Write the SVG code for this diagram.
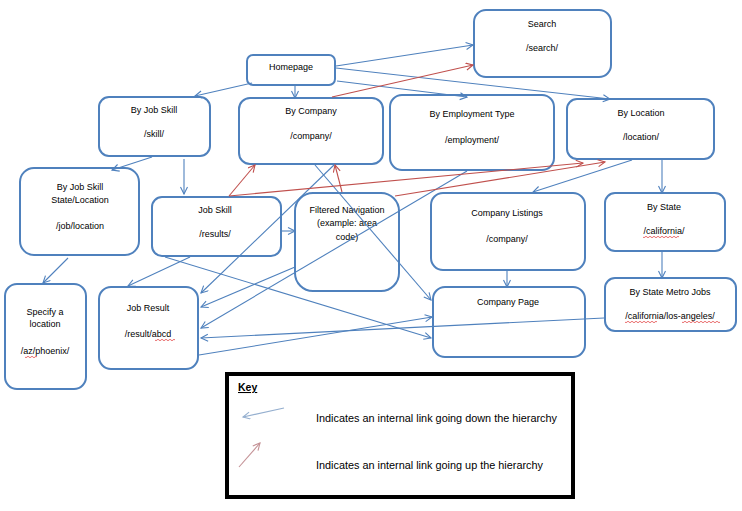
<svg xmlns="http://www.w3.org/2000/svg" width="742" height="511" viewBox="0 0 742 511">
<style>
.node rect{fill:#fff;stroke:#4F81BD;stroke-width:2}
.node text{font-family:"Liberation Sans",Arial,sans-serif;font-size:9px;fill:#000;text-anchor:middle}
.b{stroke:#4F81BD;stroke-width:1.1;fill:none;marker-end:url(#ab)}
.r{stroke:#C0504D;stroke-width:1.1;fill:none;marker-end:url(#ar)}
.sq{stroke:#E03030;stroke-width:0.7;fill:none}
.key text{font-family:"Liberation Sans",Arial,sans-serif;font-size:10.5px;fill:#000}
</style>
<defs>
<marker id="ab" markerUnits="userSpaceOnUse" markerWidth="10" markerHeight="10" refX="8" refY="4" orient="auto"><path d="M1,0.5 L8,4 L1,7.5" fill="none" stroke="#4F81BD" stroke-width="1.1"/></marker>
<marker id="ar" markerUnits="userSpaceOnUse" markerWidth="10" markerHeight="10" refX="8" refY="4" orient="auto"><path d="M1,0.5 L8,4 L1,7.5" fill="none" stroke="#C0504D" stroke-width="1.1"/></marker>
<marker id="akb" markerUnits="userSpaceOnUse" markerWidth="10" markerHeight="10" refX="8" refY="4" orient="auto"><path d="M1,0.5 L8,4 L1,7.5" fill="none" stroke="#95AFCF" stroke-width="1.1"/></marker>
<marker id="akr" markerUnits="userSpaceOnUse" markerWidth="10" markerHeight="10" refX="8" refY="4" orient="auto"><path d="M1,0.5 L8,4 L1,7.5" fill="none" stroke="#C49296" stroke-width="1.1"/></marker>
</defs>
<rect width="742" height="511" fill="#fff"/>

<g id="homepage" class="node"><rect x="247" y="55" width="88" height="30" rx="6"/><text x="291" y="70">Homepage</text></g>
<g id="search" class="node"><rect x="474" y="10" width="137" height="67" rx="12"/><text x="542" y="27">Search</text><text x="542" y="51">/search/</text></g>
<g id="by-job-skill" class="node"><rect x="99" y="97" width="111" height="59" rx="10"/><text x="154" y="113">By Job Skill</text><text x="154" y="137">/skill/</text></g>
<g id="by-company" class="node"><rect x="239" y="98" width="144" height="66" rx="11"/><text x="311" y="114">By Company</text><text x="311" y="139">/company/</text></g>
<g id="by-employment-type" class="node"><rect x="390" y="95" width="164" height="75" rx="12"/><text x="472" y="117">By Employment Type</text><text x="472" y="143">/employment/</text></g>
<g id="by-location" class="node"><rect x="567" y="99" width="147" height="60" rx="10"/><text x="641" y="116">By Location</text><text x="641" y="140">/location/</text></g>
<g id="by-job-skill-state" class="node"><rect x="20" y="168" width="119" height="87" rx="14"/><text x="80" y="190">By Job Skill</text><text x="80" y="203">State/Location</text><text x="80" y="229">/job/location</text></g>
<g id="job-skill" class="node"><rect x="152" y="197" width="129" height="59" rx="10"/><text x="215" y="213">Job Skill</text><text x="215" y="237">/results/</text></g>
<g id="filtered-navigation" class="node"><rect x="295" y="193" width="104" height="98" rx="18"/><text x="347" y="213">Filtered Navigation</text><text x="347" y="226">(example: area</text><text x="347" y="240">code)</text></g>
<g id="company-listings" class="node"><rect x="431" y="193" width="154" height="77" rx="12"/><text x="507" y="216">Company Listings</text><text x="507" y="242">/company/</text></g>
<g id="by-state" class="node"><rect x="605" y="193" width="120" height="58" rx="10"/><text x="664" y="210">By State</text><text x="664" y="234">/california/</text><path class="sq" d="M643,237 q1,1.5 2,0 t2,0 t2,0 t2,0 t2,0 t2,0 t2,0 t2,0 t2,0 t2,0 t2,0 t2,0 t2,0 t2,0 t2,0 t2,0 t2,0 t2,0"/></g>
<g id="by-state-metro" class="node"><rect x="605" y="278" width="131" height="53" rx="10"/><text x="670" y="295">By State Metro Jobs</text><text x="670" y="319">/california/los-angeles/</text><path class="sq" d="M625,322 q1,1.5 2,0 t2,0 t2,0 t2,0 t2,0 t2,0 t2,0 t2,0 t2,0 t2,0 t2,0 t2,0 t2,0 t2,0 t2,0 t2,0 M682,322 q1,1.5 2,0 t2,0 t2,0 t2,0 t2,0 t2,0 t2,0 t2,0 t2,0 t2,0 t2,0 t2,0 t2,0 t2,0 t2,0 t2,0 t2,0 t2,0 t2,0"/></g>
<g id="company-page" class="node"><rect x="433" y="287" width="152" height="70" rx="12"/><text x="508" y="305">Company Page</text></g>
<g id="specify-location" class="node"><rect x="5" y="284" width="81" height="105" rx="12"/><text x="45" y="315">Specify a</text><text x="45" y="327">location</text><text x="45" y="354">/az/phoenix/</text><path class="sq" d="M25,357 q1,1.5 2,0 t2,0 t2,0 t2,0 t2,0 t2,0"/></g>
<g id="job-result" class="node"><rect x="99" y="287" width="99" height="82" rx="12"/><text x="148" y="311">Job Result</text><text x="148" y="337">/result/abcd</text><path class="sq" d="M155,340 q1,1.5 2,0 t2,0 t2,0 t2,0 t2,0 t2,0 t2,0 t2,0 t2,0 t2,0"/></g>

<g id="connectors">
<line class="b" x1="252" y1="83" x2="195" y2="96"/>
<line class="b" x1="295" y1="86" x2="295" y2="98"/>
<line class="b" x1="336" y1="66" x2="473" y2="45"/>
<line class="b" x1="337" y1="81" x2="467" y2="97"/>
<line class="b" x1="336" y1="68" x2="610" y2="99"/>
<line class="b" x1="152" y1="157" x2="112" y2="170"/>
<line class="b" x1="184" y1="159" x2="184" y2="194"/>
<line class="b" x1="315" y1="165" x2="431" y2="300"/>
<line class="b" x1="334" y1="165" x2="201" y2="293"/>
<line class="b" x1="467" y1="171" x2="201" y2="328"/>
<line class="b" x1="295" y1="267" x2="201" y2="307"/>
<line class="b" x1="632" y1="160" x2="533" y2="192"/>
<line class="b" x1="662" y1="160" x2="662" y2="193"/>
<line class="b" x1="507" y1="271" x2="507" y2="287"/>
<line class="b" x1="662" y1="252" x2="662" y2="278"/>
<line class="b" x1="68" y1="258" x2="43" y2="283"/>
<line class="b" x1="282" y1="231" x2="295" y2="231"/>
<line class="b" x1="604" y1="318" x2="201" y2="338"/>
<line class="b" x1="199" y1="355" x2="432" y2="317"/>
<line class="b" x1="165" y1="257" x2="431" y2="338"/>
<line class="b" x1="190" y1="257" x2="128" y2="286"/>
<line class="r" x1="332" y1="97" x2="473" y2="65"/>
<line class="r" x1="229" y1="196" x2="255" y2="165"/>
<line class="r" x1="229" y1="196" x2="583" y2="163"/>
<line class="r" x1="342" y1="192" x2="335" y2="165"/>
<line class="r" x1="395" y1="196" x2="605" y2="162"/>
</g>

<g id="key" class="key">
<rect x="227" y="374" width="346" height="123" fill="#fff" stroke="#000" stroke-width="4"/>
<text x="238" y="391" font-weight="bold" text-decoration="underline" font-size="10px">Key</text>
<line x1="284" y1="408" x2="243" y2="417" stroke="#95AFCF" stroke-width="1.1" marker-end="url(#akb)"/>
<line x1="239" y1="467" x2="260" y2="443" stroke="#C49296" stroke-width="1.1" marker-end="url(#akr)"/>
<text x="316" y="422" textLength="241" lengthAdjust="spacingAndGlyphs">Indicates an internal link going down the hierarchy</text>
<text x="316" y="469" textLength="227" lengthAdjust="spacingAndGlyphs">Indicates an internal link going up the hierarchy</text>
</g>
</svg>
